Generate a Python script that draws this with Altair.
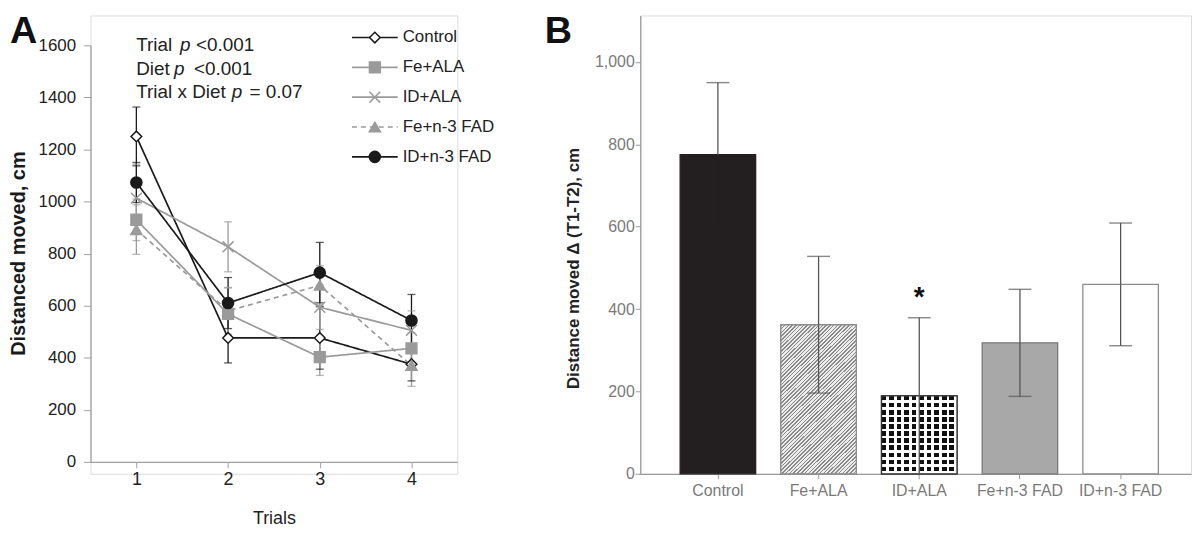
import altair as alt
import pandas as pd

# ---------------- data ----------------
SERIES = ["Control", "Fe+ALA", "ID+ALA", "Fe+n-3 FAD", "ID+n-3 FAD"]
TRIALS = [1, 2, 3, 4]

MEAN_CONTROL = [1250, 476, 476, 375]
ERR_CONTROL = [113, 96, 120, 64]
MEAN_FE_ALA = [930, 568, 402, 436]
ERR_FE_ALA = [80, 100, 70, 60]
MEAN_ID_ALA = [1013, 826, 594, 505]
ERR_ID_ALA = [130, 96, 85, 75]
MEAN_FE_N3 = [892, 580, 678, 370]
ERR_FE_N3 = [95, 90, 76, 80]
MEAN_ID_N3 = [1073, 610, 727, 543]
ERR_ID_N3 = [77, 98, 116, 100]

Y_TICKS_A = [0, 200, 400, 600, 800, 1000, 1200, 1400, 1600]

DELTA_MEAN = [775, 362, 189, 318, 460]
DELTA_ERR = [175, 166, 190, 130, 149]
SIG = ["", "", "*", "", ""]
Y_TICKS_B = [0, 200, 400, 600, 800, 1000]

ANNOT = [("Trial", "p", "<0.001"), ("Diet", "p", "<0.001"), ("Trial x Diet", "p", "= 0.07")]

# ---------------- tables ----------------
means = [MEAN_CONTROL, MEAN_FE_ALA, MEAN_ID_ALA, MEAN_FE_N3, MEAN_ID_N3]
errs = [ERR_CONTROL, ERR_FE_ALA, ERR_ID_ALA, ERR_FE_N3, ERR_ID_N3]
rows = []
for s, m, e in zip(SERIES, means, errs):
    for t, mv, ev in zip(TRIALS, m, e):
        rows.append({"series": s, "trial": t, "mean": mv, "lo": mv - ev, "hi": mv + ev})
dfA = pd.DataFrame(rows)
dfLeg = pd.DataFrame({"series": SERIES, "idx": list(range(len(SERIES)))})

dfB = pd.DataFrame({"group": SERIES, "mean": DELTA_MEAN, "err": DELTA_ERR, "sig": SIG})
dfB["lo"] = dfB["mean"] - dfB["err"]
dfB["hi"] = dfB["mean"] + dfB["err"]

# ---------------- styles ----------------
SANS = "Liberation Sans, Arial, sans-serif"
BLACK = "#1a1a1a"
GRAY = "#9a9a9a"
STROKES = [BLACK, GRAY, GRAY, GRAY, BLACK]
FILLS = ["white", GRAY, "transparent", GRAY, BLACK]
SHAPES = ["diamond", "square", "M-1,-1L1,1M-1,1L1,-1", "triangle-up", "circle"]
SIZES = [115, 125, 110, 135, 160]
DASHES = [[1, 0], [1, 0], [1, 0], [5, 4], [1, 0]]

color_s = alt.Color("series:N", scale=alt.Scale(domain=SERIES, range=STROKES), legend=None)
stroke_s = alt.Stroke("series:N", scale=alt.Scale(domain=SERIES, range=STROKES), legend=None)
fill_s = alt.Fill("series:N", scale=alt.Scale(domain=SERIES, range=FILLS), legend=None)
shape_s = alt.Shape("series:N", scale=alt.Scale(domain=SERIES, range=SHAPES), legend=None)
size_s = alt.Size("series:N", scale=alt.Scale(domain=SERIES, range=SIZES), legend=None)
dash_s = alt.StrokeDash("series:N", scale=alt.Scale(domain=SERIES, range=DASHES), legend=None)

axA_x = alt.Axis(values=TRIALS, format="d", offset=-12, grid=False,
                 domainColor="#a0a0a0", tickColor="#a0a0a0", tickSize=6, domainWidth=1.3,
                 labelFont=SANS, labelFontSize=18, labelColor="#222", labelPadding=3,
                 title="Trials", titleFont=SANS, titleFontSize=18, titleFontWeight="normal",
                 titleColor="#222", titleX=184.5, titleY=57, titleBaseline="middle")
axA_y = alt.Axis(values=Y_TICKS_A, format="d", grid=False,
                 domainColor="#a0a0a0", tickColor="#a0a0a0", tickSize=7, domainWidth=1.3,
                 labelFont=SANS, labelFontSize=17, labelColor="#222", labelPadding=8,
                 title="Distanced moved, cm", titleFont=SANS, titleFontSize=20,
                 titleFontWeight="bold", titleColor=BLACK, titleX=-72, titleY=239,
                 titleAngle=270, titleAlign="center", titleBaseline="middle")

xA = alt.X("trial:Q", scale=alt.Scale(domain=[0.5, 4.5], nice=False, zero=False), axis=axA_x)
yScaleA = alt.Scale(domain=[0, 1600], range=[449, 30], nice=False, zero=False)


def yA(field):
    return alt.Y(field, scale=yScaleA, axis=axA_y)


baseA = alt.Chart(dfA)
err_rule = baseA.mark_rule(strokeWidth=1.3).encode(x=xA, y=yA("lo:Q"), y2="hi:Q", color=color_s)
cap_hi = baseA.mark_tick(orient="horizontal", size=8, thickness=1.3).encode(x=xA, y=yA("hi:Q"), color=color_s)
cap_lo = baseA.mark_tick(orient="horizontal", size=8, thickness=1.3).encode(x=xA, y=yA("lo:Q"), color=color_s)
lines = baseA.mark_line(strokeWidth=1.7).encode(
    x=xA, y=yA("mean:Q"), color=color_s, strokeDash=dash_s, detail="series:N")
points = baseA.mark_point(opacity=1, strokeWidth=1.5, filled=False).encode(
    x=xA, y=yA("mean:Q"), stroke=stroke_s, fill=fill_s, shape=shape_s, size=size_s)

# legend drawn as marks, rows placed through the y scale
legBase = alt.Chart(dfLeg).transform_calculate(ly="1630 - datum.idx * 114.6")
leg_line = legBase.mark_rule(strokeWidth=1.7).encode(
    x=alt.value(263), x2=alt.value(309), y=yA("ly:Q"), color=color_s, strokeDash=dash_s)
leg_pt = legBase.mark_point(opacity=1, strokeWidth=1.5, filled=False).encode(
    x=alt.value(286), y=yA("ly:Q"), stroke=stroke_s, fill=fill_s, shape=shape_s, size=size_s)
leg_txt = legBase.mark_text(align="left", baseline="middle", font=SANS, fontSize=17, color="#222").encode(
    x=alt.value(314), y=yA("ly:Q"), text="series:N")

one = pd.DataFrame({"a": [0]})
ann_layers = []
ann_y = [30, 54, 77]
ann_x = [(46, 90, 106), (46, 84, 104), (46, 142, 160)]
for (a, p, b), yy, (x1, x2, x3) in zip(ANNOT, ann_y, ann_x):
    for txt, xx, st in ((a, x1, "normal"), (p, x2, "italic"), (b, x3, "normal")):
        ann_layers.append(
            alt.Chart(one).mark_text(text=txt, align="left", baseline="middle", font=SANS,
                                     fontSize=19, fontStyle=st, color="#222")
            .encode(x=alt.value(xx), y=alt.value(yy)))

labelA = alt.Chart(one).mark_text(text="A", align="left", baseline="top", font=SANS, fontSize=38,
                                  fontWeight="bold", color="#111").encode(x=alt.value(-81), y=alt.value(-2))

chartA = alt.layer(err_rule, cap_hi, cap_lo, lines, points, leg_line, leg_pt, leg_txt,
                   *ann_layers, labelA).properties(width=369, height=461)

# ---------------- panel B ----------------
axB_x = alt.Axis(title=None, labelAngle=0, labelFont=SANS, labelFontSize=16, labelColor="#7a7a7a",
                 domainColor="#9a9a9a", tickColor="#9a9a9a", tickSize=5, labelPadding=4, domainWidth=1.3)
axB_y = alt.Axis(values=Y_TICKS_B, format=",d", grid=False,
                 domainColor="#9a9a9a", tickColor="#9a9a9a", tickSize=5, domainWidth=1.3,
                 labelFont=SANS, labelFontSize=16, labelColor="#7a7a7a", labelPadding=1,
                 title="Distance moved Δ (T1-T2), cm", titleFont=SANS, titleFontSize=17,
                 titleFontWeight="bold", titleColor="#222", titleX=-67, titleY=254,
                 titleAngle=270, titleAlign="center", titleBaseline="middle")
xB = alt.X("group:N", sort=SERIES,
           scale=alt.Scale(domain=SERIES, paddingInner=0.25, paddingOuter=0.36, align=0.55), axis=axB_x)
yScaleB = alt.Scale(domain=[0, 1113], nice=False, zero=True)


def yB(field):
    return alt.Y(field, scale=yScaleB, axis=axB_y)


BAR_FILLS = ["#231f20", "#e6e6e6", "#111111", "#a8a8a8", "#ffffff"]
BAR_STROKES = ["#231f20", "#8c8c8c", "#333333", "#7a7a7a", "#8c8c8c"]
# colour of the part of each error bar that lies inside its bar (hidden in the black one)
LOWER_ERR = ["#231f20", "#555555", "#555555", "#555555", "#555555"]


def stripes(c1, c2, n, frac):
    out = []
    for i in range(n):
        a, b, c = i / n, (i + frac) / n, (i + 1) / n
        out += [alt.GradientStop(offset=a, color=c1), alt.GradientStop(offset=b, color=c1),
                alt.GradientStop(offset=b, color=c2), alt.GradientStop(offset=c, color=c2)]
    return out


hatch = alt.LinearGradient(gradient="linear", x1=0, y1=0, x2=1, y2=2,
                           stops=stripes("#8a8a8a", "#ececec", 100, 0.42))
chk_h = alt.LinearGradient(gradient="linear", x1=0, y1=0, x2=0, y2=1,
                           stops=stripes("rgba(255,255,255,0)", "#ffffff", 11, 0.62))
chk_v = alt.LinearGradient(gradient="linear", x1=0, y1=0, x2=1, y2=0,
                           stops=stripes("rgba(255,255,255,0)", "#ffffff", 10, 0.62))

baseB = alt.Chart(dfB)
lower_col = alt.Color("group:N", scale=alt.Scale(domain=SERIES, range=LOWER_ERR), legend=None)
bars = baseB.mark_bar(strokeWidth=1.3).encode(
    x=xB, y=yB("mean:Q"),
    fill=alt.Fill("group:N", scale=alt.Scale(domain=SERIES, range=BAR_FILLS), legend=None),
    stroke=alt.Stroke("group:N", scale=alt.Scale(domain=SERIES, range=BAR_STROKES), legend=None))
hatch_bar = baseB.transform_filter(alt.datum.group == "Fe+ALA").mark_bar(
    fill=hatch, stroke="#8c8c8c", strokeWidth=1.3).encode(x=xB, y=yB("mean:Q"))
chk1 = baseB.transform_filter(alt.datum.group == "ID+ALA").mark_bar(fill=chk_h).encode(x=xB, y=yB("mean:Q"))
chk2 = baseB.transform_filter(alt.datum.group == "ID+ALA").mark_bar(
    fill=chk_v, stroke="#333333", strokeWidth=1.3).encode(x=xB, y=yB("mean:Q"))
errB_up = baseB.mark_rule(color="#555555", strokeWidth=1.3).encode(x=xB, y=yB("mean:Q"), y2="hi:Q")
errB_lo = baseB.mark_rule(strokeWidth=1.3).encode(x=xB, y=yB("lo:Q"), y2="mean:Q", color=lower_col)
capB_hi = baseB.mark_tick(orient="horizontal", size=23, thickness=1.4, color="#555555").encode(x=xB, y=yB("hi:Q"))
capB_lo = baseB.transform_filter(alt.datum.lo > 5).mark_tick(
    orient="horizontal", size=23, thickness=1.4).encode(x=xB, y=yB("lo:Q"), color=lower_col)
star = baseB.mark_text(font=SANS, fontSize=28, fontWeight="bold", color="#111", baseline="middle", dy=-20).encode(
    x=xB, y=yB("hi:Q"), text="sig:N")
labelB = alt.Chart(one).mark_text(text="B", align="left", baseline="top", font=SANS, fontSize=38,
                                  fontWeight="bold", color="#111").encode(x=alt.value(-96), y=alt.value(-2))

chartB = alt.layer(bars, hatch_bar, chk1, chk2, errB_lo, errB_up, capB_hi, capB_lo, star, labelB).properties(
    width=554, height=461)

chart = alt.hconcat(chartA, chartB, spacing=49).resolve_scale(
    color="independent", fill="independent", stroke="independent",
    shape="independent", size="independent", strokeDash="independent"
).properties(
    padding={"left": 0, "top": 3, "right": 0, "bottom": 0}
).configure_view(stroke=None).configure(background="white")

chart.save("out.html", embed_options={"renderer": "svg", "actions": False})
